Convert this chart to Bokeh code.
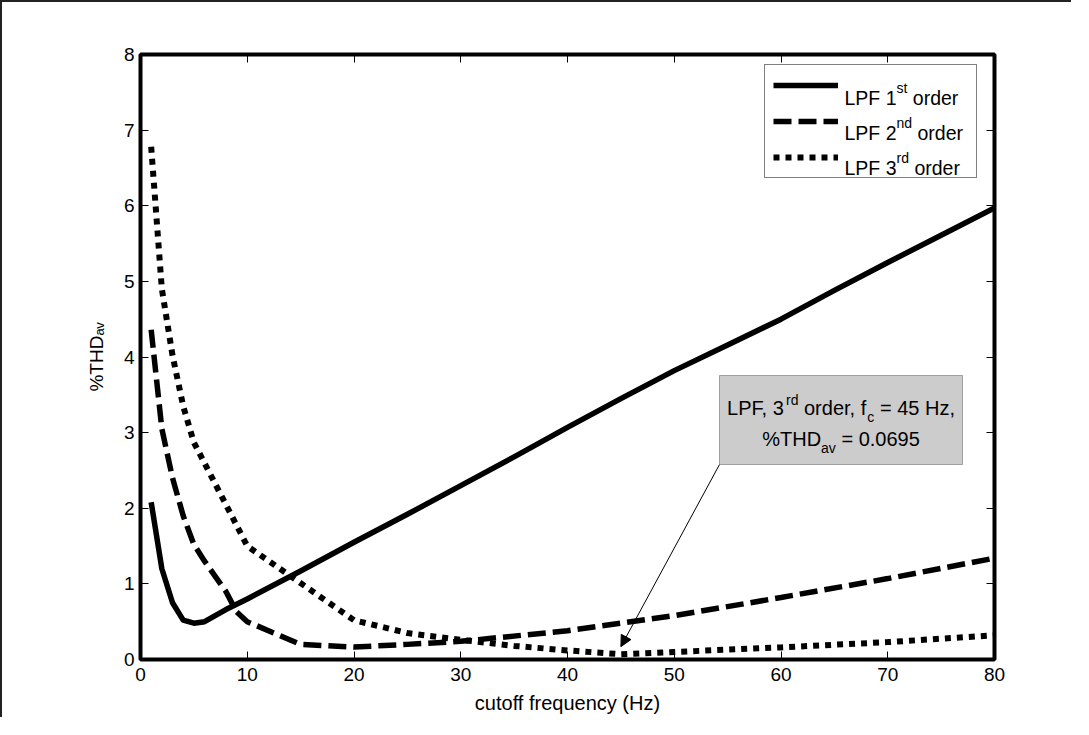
from bokeh.plotting import figure
from bokeh.models import (Range1d, FixedTicker, LinearAxis, Label, BoxAnnotation,
                          Arrow, NormalHead, Legend, LegendItem)
from bokeh.embed import file_html
from bokeh.resources import INLINE

# ---------------- data ----------------
freq_1st = [1, 2, 3, 4, 5, 6, 7, 8, 9, 10, 15, 20, 25, 30, 35, 40, 45, 50, 55, 60, 65, 70, 75, 80]
thd_1st = [2.08, 1.20, 0.75, 0.52, 0.48, 0.50, 0.58, 0.66, 0.73, 0.80, 1.17, 1.55, 1.92, 2.30,
           2.68, 3.07, 3.45, 3.82, 4.16, 4.50, 4.88, 5.25, 5.61, 5.97]

freq_2nd = [1, 2, 3, 4, 5, 6, 7, 8, 9, 10, 15, 20, 25, 30, 40, 50, 60, 70, 80]
thd_2nd = [4.36, 3.05, 2.40, 1.90, 1.52, 1.30, 1.10, 0.90, 0.63, 0.50, 0.20, 0.165, 0.20, 0.24,
           0.38, 0.58, 0.82, 1.07, 1.34]

freq_3rd = [1, 2, 3, 4, 5, 10, 20, 25, 30, 35, 40, 45, 50, 60, 70, 80]
thd_3rd = [6.78, 4.90, 4.02, 3.35, 2.87, 1.50, 0.52, 0.35, 0.26, 0.18, 0.12, 0.0695, 0.10, 0.16,
           0.23, 0.32]

x_ticks = [0, 10, 20, 30, 40, 50, 60, 70, 80]
y_ticks = [0, 1, 2, 3, 4, 5, 6, 7, 8]

legend_texts = [("LPF 1", "st", " order"), ("LPF 2", "nd", " order"), ("LPF 3", "rd", " order")]
note_line1 = [("LPF, 3", "n"), ("rd", "sup"), (" order, f", "n"), ("c", "sub"), (" = 45 Hz,", "n")]
note_line2 = [("%THD", "n"), ("av", "sub"), (" = 0.0695", "n")]
note_target = (45, 0.17)
x_title = "cutoff frequency (Hz)"
y_title = "%THD\u2090\u1d65"

FONT = "Liberation Sans"

# ---------------- figure ----------------
W, H = 1071, 717
p = figure(width=W, height=H, output_backend="svg", toolbar_location=None,
           x_range=Range1d(0, 80), y_range=Range1d(0, 8),
           min_border_left=138, min_border_right=79, min_border_top=52, min_border_bottom=60)
p.styles = {"border-top": "2px solid #222222", "border-left": "2px solid #222222"}
p.grid.visible = False
p.background_fill_color = "white"
p.border_fill_color = "white"
p.outline_line_color = "black"
p.outline_line_width = 4


def style_axis(ax, ticks, show_labels):
    ax.ticker = FixedTicker(ticks=ticks)
    ax.axis_line_color = None
    ax.major_tick_in = 8
    ax.major_tick_out = 0
    ax.major_tick_line_color = "black"
    ax.major_tick_line_width = 1
    ax.minor_tick_line_color = None
    ax.major_label_text_font = FONT
    ax.major_label_text_font_size = "19px"
    ax.major_label_text_color = "black" if show_labels else None


xa = p.xaxis[0]
ya = p.yaxis[0]
style_axis(xa, x_ticks, True)
style_axis(ya, y_ticks, True)
xa.major_label_standoff = 8
ya.major_label_standoff = 6
xa.axis_label = x_title
xa.axis_label_text_font = FONT
xa.axis_label_text_font_size = "20px"
xa.axis_label_text_font_style = "normal"
xa.axis_label_text_color = "black"
xa.axis_label_standoff = 8
ya.axis_label = y_title
ya.axis_label_text_font = FONT
ya.axis_label_text_font_size = "19px"
ya.axis_label_text_font_style = "normal"
ya.axis_label_text_color = "black"
ya.axis_label_standoff = 14

top_ax = LinearAxis()
right_ax = LinearAxis()
style_axis(top_ax, x_ticks, False)
style_axis(right_ax, y_ticks, False)
p.add_layout(top_ax, "above")
p.add_layout(right_ax, "right")

# ---------------- curves ----------------
r1 = p.line(freq_1st, thd_1st, line_color="black", line_width=5.5, line_join="round")
r2 = p.line(freq_2nd, thd_2nd, line_color="black", line_width=5.5, line_dash="18 7")
r3 = p.line(freq_3rd, thd_3rd, line_color="black", line_width=6, line_dash="6 6")

# ---------------- helpers for positioned text ----------------
X0, Y0 = 148, 667  # page position of the frame's bottom-left corner
CW = {'L': .556, 'P': .667, 'F': .611, ',': .278, ' ': .278, '1': .556, '2': .556, '3': .556,
      's': .5, 't': .278, 'n': .556, 'd': .556, 'r': .333, 'o': .556, 'e': .556, 'f': .278,
      'c': .5, '=': .584, '4': .556, '5': .556, 'H': .722, 'z': .5, '%': .889, 'T': .611,
      'D': .722, 'a': .556, 'v': .5, '0': .556, '.': .278, '6': .556, '9': .556}


def tw(s, size):
    return sum(CW.get(ch, .556) for ch in s) * size


def put(px, py, text, size):
    p.add_layout(Label(x=px - X0, y=Y0 - py, x_units="screen", y_units="screen",
                       text=text, text_font=FONT, text_font_size=f"{size}px",
                       text_color="black", text_baseline="alphabetic", text_align="left",
                       level="overlay"))


def rich(px, py, pieces, size, small, up, down):
    x = px
    for txt, kind in pieces:
        sz = size if kind == "n" else small
        dy = 0 if kind == "n" else (-up if kind == "sup" else down)
        lead = len(txt) - len(txt.lstrip(" "))
        trail = len(txt) - len(txt.rstrip(" "))
        core = txt.strip(" ")
        x += lead * CW[' '] * sz
        if core:
            put(x, py + dy, core, sz)
        x += tw(core, sz) + trail * CW[' '] * sz


def rich_width(pieces, size, small):
    return sum(tw(t, size if k == "n" else small) for t, k in pieces)


# ---------------- legend ----------------
legend = Legend(items=[LegendItem(label=" ", renderers=[r]) for r in (r1, r2, r3)],
                location=(772 - X0, Y0 - 186), padding=8, spacing=12, margin=0,
                glyph_width=65, glyph_height=24, label_standoff=5, label_width=125,
                label_height=20, label_text_font_size="6px",
                border_line_color="black", border_line_width=1,
                background_fill_alpha=0)
p.add_layout(legend)
for i, (a, sup, b) in enumerate(legend_texts):
    rich(852, 105 + 35 * i, [(a, "n"), (sup, "sup"), (b, "n")], 19.5, 14, 10, 0)

# ---------------- annotation box with arrow ----------------
bx0, bx1, by0, by1 = 727, 970, 383, 472
p.add_layout(Arrow(end=NormalHead(size=11, fill_color="black", line_color="black", line_width=1),
                   x_start=bx0 - X0, y_start=Y0 - by1, start_units="screen",
                   x_end=note_target[0], y_end=note_target[1], end_units="data",
                   line_color="black", line_width=1))
p.add_layout(BoxAnnotation(left=bx0 - X0, right=bx1 - X0, top=Y0 - by0, bottom=Y0 - by1,
                           left_units="screen", right_units="screen",
                           top_units="screen", bottom_units="screen",
                           fill_color="#cccccc", fill_alpha=1, line_color="black", line_width=1))
cx = (bx0 + bx1) / 2
w1 = rich_width(note_line1, 20, 14)
w2 = rich_width(note_line2, 20, 14)
rich(cx - w1 / 2, 415, note_line1, 20, 14, 8, 9)
rich(cx - w2 / 2, 446, note_line2, 20, 14, 8, 9)

open("out.html", "w").write(file_html(p, INLINE))
